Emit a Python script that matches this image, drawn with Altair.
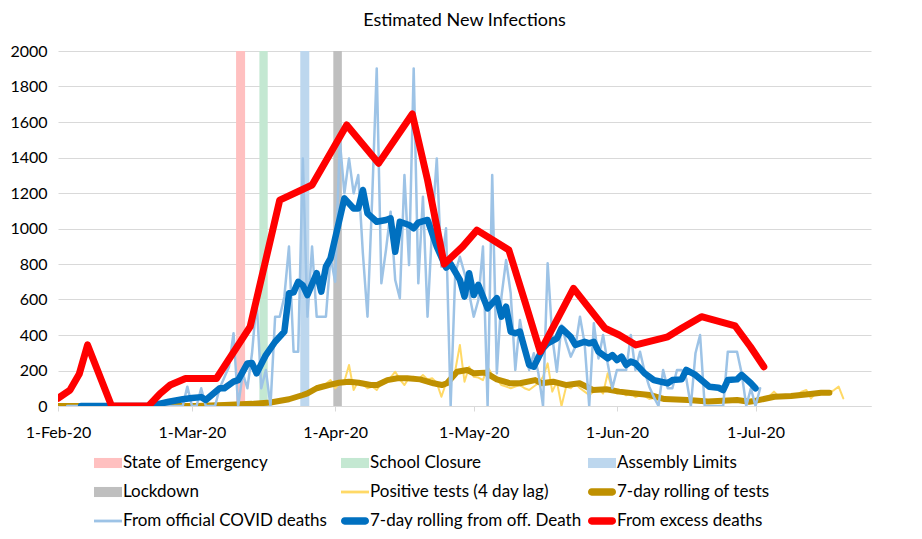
import altair as alt
import pandas as pd

START = pd.Timestamp("2020-02-01")


def iso(day):
    return (START + pd.Timedelta(days=float(day))).strftime("%Y-%m-%dT%H:%M:%S")


# ---------------- data ----------------
# Policy bands (start / end in days after 1-Feb-20)
BAND_NAMES = ["State of Emergency", "School Closure", "Assembly Limits", "Lockdown"]
BAND_START = [38.55, 43.6, 52.45, 59.6]
BAND_END = [40.5, 45.4, 54.4, 61.45]
BAND_COLORS = ["#FFC0C0", "#C4E8D2", "#BDD7EE", "#BFBFBF"]

# From official COVID deaths (daily, starting day 2)
LB_START = 2
LB_VALUES = [
    0, 0, 0, 0, 0, 0, 0, 0, 0, 0, 0, 0, 0, 0, 0, 0, 0, 0, 0, 0, 0, 0, 0, 0, 0, 0,
    109, 0, 0, 100, 0, 0, 0, 100, 160, 221, 410, 0, 184, 100, 297, 597, 100, 203, 0,
    503, 503, 616, 898, 306, 306, 1395, 503, 898, 503, 503, 503, 841, 700, 1498,
    1198, 1395, 1198, 1301, 860, 503, 1160, 1902, 691, 879, 1095, 710, 607, 1301,
    794, 1902, 691, 1179, 503, 1010, 1395, 785, 1001, 0, 748, 841, 748, 635, 503,
    597, 898, 0, 1301, 184, 616, 822, 635, 203, 484, 340, 203, 297, 184, 0, 804,
    390, 193, 456, 360, 278, 334, 503, 353, 0, 466, 268, 400, 240, 100, 203, 203,
    203, 400, 203, 306, 193, 109, 50, 0, 203, 100, 100, 203, 203, 156, 0, 297, 400,
    0, 0, 0, 0, 0, 306, 306, 306, 184, 0, 100, 0, 100,
]

# Positive tests (4 day lag) (daily, starting day 30)
PT_START = 30
PT_VALUES = [
    0, 0, 2, 0, 5, 3, 8, 5, 10, 12, 10, 15, 20, 18, 25, 22, 30, 28, 35, 40,
    45, 50, 60, 65, 70, 95, 110, 120, 125, 146,
    100, 130, 140, 231, 90, 140, 120, 100, 110, 90,
    130, 150, 160, 193, 150, 118, 160, 165, 150, 175,
    150, 156, 130, 52, 128, 160, 200, 344, 137, 221,
    165, 160, 146, 221, 175, 150, 118, 110, 100, 110,
    118, 100, 90, 110, 128, 165, 240, 81, 137, 0,
    109, 100, 128, 100, 81, 62, 80, 100, 70, 184,
    90, 70, 80, 60, 75, 50, 60, 55, 40, 45,
    35, 45, 30, 40, 35, 30, 40, 25, 35, 30,
    20, 25, 30, 35, 30, 40, 35, 30, 25, 30,
    35, 40, 45, 50, 55, 81, 55, 50, 60, 55,
    60, 81, 90, 43, 70, 75, 80, 75, 90, 109,
    43,
]

# 7-day rolling of tests (vertices)
GOLD_DAYS = [0, 30, 36, 42, 46, 50, 53, 54, 56, 58.6, 60.8, 63, 65.1, 67.7, 69.1,
             71.3, 73.5, 75.6, 78.4, 81.3, 83.1, 84.2, 86.4, 88.6, 90, 92.5, 95,
             97.9, 100, 103.3, 104.7, 107.2, 110.1, 112.9, 115.8, 118.7, 121.5,
             124.4, 128.1, 131.3, 136.4, 140.7, 147, 149.6, 151.1, 155.1, 158.7,
             162.4, 165.2, 167]
GOLD_VALUES = [0, 0, 5, 12, 20, 38, 62, 71, 100, 118, 131, 137, 131, 118, 118,
               146, 156, 156, 150, 128, 118, 128, 193, 203, 184, 188, 150,
               128, 128, 146, 128, 137, 118, 128, 90, 94, 81,
               72, 62, 39, 34, 25, 34, 24, 30, 52, 56,
               66, 75, 75]

# 7-day rolling from official deaths (vertices)
BLUE_DAYS = [5, 20, 24, 27, 29, 31, 32, 35, 36, 38, 39, 41, 42, 43, 45, 47, 49, 50,
             51, 52, 53, 54, 56, 57, 58, 59, 62, 64, 65, 66, 67, 69, 71, 72, 73,
             74, 76, 77, 78, 80, 82, 84, 85, 87, 88, 89, 90, 91, 93, 95, 96, 97,
             98, 99, 100, 102, 103, 105, 106, 108, 109, 111, 112, 114, 115, 116,
             117, 119, 120, 121, 122, 123, 124, 125, 127, 129, 132, 133, 135, 136,
             138, 141, 143, 144, 145, 147, 148, 150, 151]
BLUE_VALUES = [0, 0, 24, 38, 45, 50, 34, 100, 100, 137, 146, 240, 242, 184, 287,
               362, 419, 635, 640, 700, 680, 625, 748, 644, 785, 832, 1170, 1113,
               1113, 1217, 1085, 1038, 1048, 1057, 869, 1038, 1020, 1001, 1033,
               1048, 898, 780, 800, 710, 616, 748, 625, 682, 550, 607, 503, 560,
               419, 410, 419, 231, 221, 325, 353, 381, 438, 390, 344, 362, 353,
               362, 306, 268, 287, 259, 278, 231, 250, 240, 184, 146, 128, 146,
               150, 203, 175, 109, 103, 90, 146, 150, 175, 128, 100]

# From excess deaths (vertices)
RED_DAYS = [0, 2.6, 4.6, 6.4, 11.6, 19.6, 22.1, 24.3, 27.6, 34.3, 41.6, 48, 55,
            62.5, 69.4, 76.7, 80, 83.6, 87.6, 90.7, 97.6, 101.2, 104.4, 111.6,
            118.4, 121.5, 125.1, 132, 135, 139.3, 146.6, 149.9, 152.8]
RED_VALUES = [43, 90, 180, 344, 0, 0, 70, 118, 155, 155, 447, 1160, 1245,
              1583, 1367, 1645, 1273, 800, 898, 991, 879, 578, 306, 663,
              438, 400, 344, 390, 438, 503, 451, 334, 221]

# Legend entries (row-major, three columns)
LEG_NAMES = ["State of Emergency", "School Closure", "Assembly Limits",
             "Lockdown", "Positive tests (4 day lag)", "7-day rolling of tests",
             "From official COVID deaths", "7-day rolling from off. Death",
             "From excess deaths"]
LEG_COLORS = ["#FFC0C0", "#C4E8D2", "#BDD7EE", "#BFBFBF", "#FFD966", "#BF9000",
              "#9DC3E6", "#0070C0", "#FF0000"]

Y_TICKS = [0, 200, 400, 600, 800, 1000, 1200, 1400, 1600, 1800, 2000]
X_TICKS = [(2020, 2, 1), (2020, 3, 1), (2020, 4, 1), (2020, 5, 1), (2020, 6, 1), (2020, 7, 1)]

# ---------------- tables ----------------
band_df = pd.DataFrame({
    "name": BAND_NAMES,
    "start": [iso(d) for d in BAND_START],
    "end": [iso(d) for d in BAND_END],
    "top": [2000] * len(BAND_NAMES),
    "bottom": [0] * len(BAND_NAMES),
    "color": BAND_COLORS,
})


def daily_df(start, values):
    return pd.DataFrame({"date": [iso(start + i) for i in range(len(values))], "value": values})


def vertex_df(days, values):
    return pd.DataFrame({"date": [iso(d) for d in days], "value": values})


lb_df = daily_df(LB_START, LB_VALUES)
pt_df = daily_df(PT_START, PT_VALUES)
gold_df = vertex_df(GOLD_DAYS, GOLD_VALUES)
blue_df = vertex_df(BLUE_DAYS, BLUE_VALUES)
red_df = vertex_df(RED_DAYS, RED_VALUES)

RECT = "M-1,-0.36L1,-0.36L1,0.36L-1,0.36Z"
THIN = "M-1,-0.1L1,-0.1L1,0.1L-1,0.1Z"
PILL = "M-0.74,-0.26L0.74,-0.26A0.26,0.26,0,0,1,0.74,0.26L-0.74,0.26A0.26,0.26,0,0,1,-0.74,-0.26Z"
LEG_SHAPES = [RECT, RECT, RECT, RECT, THIN, PILL, THIN, PILL, PILL]
legend_df = pd.DataFrame({"name": LEG_NAMES, "date": [iso(100)] * len(LEG_NAMES),
                          "value": [-500] * len(LEG_NAMES)})

FONT = "Lato"

X_SCALE = alt.Scale(domain=[alt.DateTime(year=2020, month=2, date=1),
                            alt.DateTime(year=2020, month=7, date=26)])
X_AXIS = alt.Axis(
    values=[alt.DateTime(year=y, month=m, date=d) for (y, m, d) in X_TICKS],
    format="%-d-%b-%y", title=None, grid=False,
    labelFont=FONT, labelFontSize=16, labelColor="black",
    domainColor="#D9D9D9", tickColor="#D9D9D9", tickSize=5,
    labelPadding=13, labelFlush=False, labelOverlap=False,
)
Y_SCALE = alt.Scale(domain=[0, 2000], nice=False, zero=True)
Y_AXIS = alt.Axis(
    values=Y_TICKS, format="d", title=None, grid=True, gridColor="#D9D9D9",
    gridWidth=1, domain=False, ticks=False, tickSize=0,
    labelFont=FONT, labelFontSize=16, labelColor="black", labelPadding=11,
)
x_enc = alt.X("date:T", scale=X_SCALE, axis=X_AXIS)
y_enc = alt.Y("value:Q", scale=Y_SCALE, axis=Y_AXIS)

bands = alt.Chart(band_df).mark_rect(clip=True).encode(
    x=alt.X("start:T", scale=X_SCALE, axis=X_AXIS),
    x2="end:T",
    y=alt.Y("top:Q", scale=Y_SCALE, axis=Y_AXIS),
    y2="bottom:Q",
    color=alt.Color("color:N", scale=None),
)


def line(df, color, width):
    return alt.Chart(df).mark_line(color=color, strokeWidth=width, strokeCap="round",
                                   strokeJoin="round", clip=True).encode(x=x_enc, y=y_enc)


leg = alt.Legend(
    title=None, orient="none", legendX=36, legendY=398, columns=3, direction="horizontal",
    symbolSize=784, symbolStrokeWidth=0, symbolOpacity=1, labelFont=FONT,
    labelFontSize=17, labelColor="black", labelOffset=1, rowPadding=7,
    columnPadding=6, gridAlign="all", labelLimit=400, padding=0,
)
legend_layer = alt.Chart(legend_df).mark_point(filled=True, clip=True, opacity=1).encode(
    x=x_enc, y=y_enc,
    color=alt.Color("name:N", scale=alt.Scale(domain=LEG_NAMES, range=LEG_COLORS), legend=leg),
    shape=alt.Shape("name:N", scale=alt.Scale(domain=LEG_NAMES, range=LEG_SHAPES), legend=leg),
)

chart = alt.layer(
    bands,
    line(pt_df, "#FFD966", 2),
    line(gold_df, "#BF9000", 6),
    line(lb_df, "#9DC3E6", 2.5),
    line(blue_df, "#0070C0", 6.5),
    line(red_df, "#FF0000", 7),
    legend_layer,
).properties(
    width=813, height=355,
    title=alt.Title("Estimated New Infections", font=FONT, fontSize=18, fontWeight="normal",
                    anchor="middle", color="black", offset=13),
    autosize=alt.AutoSizeParams(type="none"),
    padding={"left": 50, "top": 43, "right": 35, "bottom": 125},
    background="white",
).configure_view(strokeWidth=0)

chart.save("out.html", embed_options={"renderer": "svg", "actions": False})
